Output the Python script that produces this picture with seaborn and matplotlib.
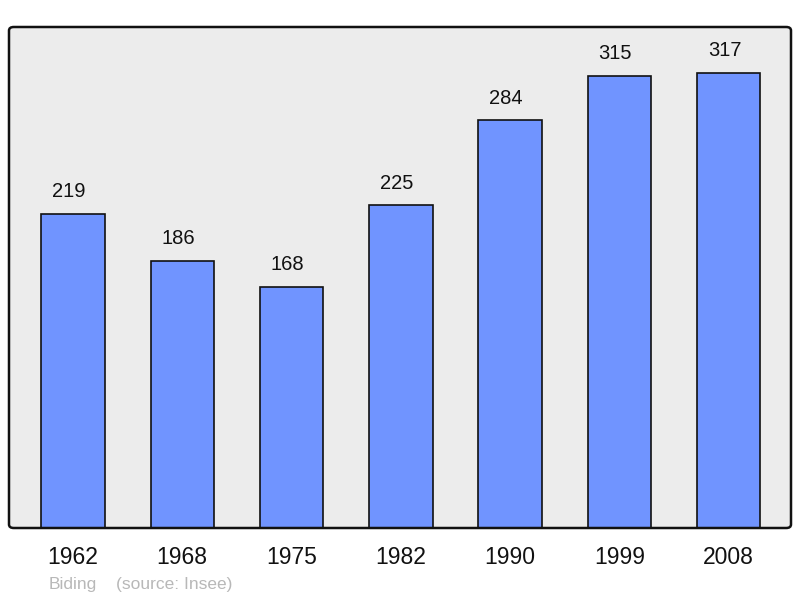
import matplotlib
matplotlib.use("Agg")
import matplotlib.pyplot as plt
import seaborn as sns
from matplotlib.patches import FancyBboxPatch

years = ["1962", "1968", "1975", "1982", "1990", "1999", "2008"]
population = [219, 186, 168, 225, 284, 315, 317]

sns.set_style("white")
plt.rcParams['font.family'] = ['Liberation Sans', 'DejaVu Sans']

fig = plt.figure(figsize=(8, 5.98), dpi=100)
box = [9 / 800, 70 / 598, 782 / 800, 501 / 598]
ax = fig.add_axes(box)
ax.set_facecolor("none")

# rounded background and frame
style = "round,pad=0,rounding_size=0.006"
back = FancyBboxPatch(box[:2], box[2], box[3], boxstyle=style,
                      transform=fig.transFigure, facecolor="#ececec",
                      edgecolor="none", zorder=-1)
edge = FancyBboxPatch(box[:2], box[2], box[3], boxstyle=style,
                      transform=fig.transFigure, facecolor="none",
                      edgecolor="#111111", linewidth=1.8, zorder=5)
fig.patches.extend([back, edge])

sns.barplot(x=years, y=population, color="#7094ff", saturation=1,
            width=0.58, edgecolor="#111111", linewidth=1.2, ax=ax)

for i, v in enumerate(population):
    ax.annotate(str(v), (i, v), xytext=(-3, 9), textcoords="offset points",
                ha="center", va="bottom", fontsize=14.5, color="#111111")

ax.set_xlim(-0.585, 6.57)
ax.set_ylim(0, 349)
ax.set_yticks([])
ax.set_xlabel("")
ax.set_ylabel("")
ax.tick_params(axis="x", length=0, pad=13, labelsize=16.5, colors="#111111")
for s in ax.spines.values():
    s.set_visible(False)

fig.text(49 / 800, 1 - 584 / 598, "Biding", fontsize=12.5, color="#b8b8b8", va="center")
fig.text(116 / 800, 1 - 584 / 598, "(source: Insee)", fontsize=12.5, color="#b8b8b8", va="center")

fig.savefig("out.png", dpi=100)
